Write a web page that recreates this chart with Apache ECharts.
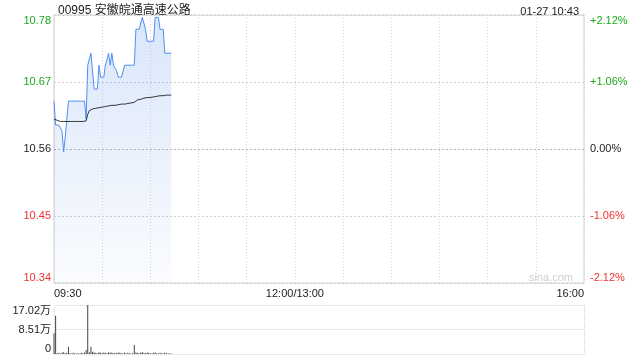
<!DOCTYPE html>
<html><head><meta charset="utf-8">
<script src="https://cdn.jsdelivr.net/npm/echarts@6/dist/echarts.min.js"></script>
<style>html,body{margin:0;padding:0;background:#fff}#c{width:640px;height:360px}</style>
</head><body><div id="c"></div>
<script>
const title = '00995 安徽皖通高速公路';
const stamp = '01-27 10:43';
const prevClose = 10.56;
const priceTickLabels = ['10.34','10.45','10.56','10.67','10.78'];
const pctTickLabels = ['-2.12%','-1.06%','0.00%','+1.06%','+2.12%'];
const volTickLabels = ['0','8.51万','17.02万'];
const timeTickLabels = {0:'09:30',150:'12:00/13:00',330:'16:00'};
// minutes since 09:30, one value per minute 09:30..10:43
const price = [10.64,10.60,10.60,10.60,10.60,10.59,10.555,10.58,10.58,10.64,
  10.64,10.64,10.64,10.64,10.64,10.64,10.64,10.64,10.64,10.64,
  10.61,10.70,10.70,10.72,10.72,10.66,10.66,10.66,10.70,10.68,
  10.68,10.68,10.70,10.70,10.72,10.70,10.72,10.70,10.70,10.69,
  10.68,10.68,10.68,10.68,10.70,10.70,10.70,10.70,10.70,10.70,
  10.70,10.76,10.76,10.76,10.76,10.78,10.78,10.76,10.74,10.74,
  10.74,10.74,10.74,10.78,10.78,10.78,10.76,10.76,10.76,10.72,
  10.72,10.72,10.72,10.72];
const avgPrice = [10.610,10.609,10.608,10.607,10.606,10.606,10.606,10.606,10.606,10.606,
  10.606,10.606,10.606,10.606,10.606,10.606,10.606,10.606,10.606,10.606,
  10.607,10.618,10.624,10.626,10.627,10.628,10.628,10.629,10.629,10.630,
  10.630,10.631,10.631,10.632,10.632,10.632,10.633,10.633,10.633,10.634,
  10.634,10.634,10.635,10.635,10.635,10.636,10.636,10.636,10.637,10.637,
  10.638,10.641,10.642,10.643,10.643,10.644,10.645,10.645,10.646,10.646,
  10.646,10.647,10.647,10.648,10.648,10.648,10.649,10.649,10.649,10.649,
  10.650,10.650,10.650,10.650];
const volume = [72000,133000,3000,4000,2000,5000,6000,3000,4000,25000,
  3000,2000,4000,3000,2000,3000,2000,4000,3000,5000,
  14000,170200,6000,25000,8000,5000,4000,3000,6000,4000,
  3000,5000,4000,3000,6000,4000,5000,3000,4000,3000,
  5000,4000,3000,2000,5000,3000,4000,3000,2000,3000,
  31000,5000,4000,3000,5000,6000,4000,3000,5000,4000,
  3000,2000,4000,5000,3000,2000,4000,3000,2000,5000,
  3000,2000,3000,2000];

const FONT = '"Liberation Sans", "Noto Sans CJK SC", sans-serif';
const step = prevClose * 0.0106;
const chart = echarts.init(document.getElementById('c'), null, {renderer:'canvas'});
const pcolor = (i) => i > 2 ? '#1ba81b' : (i < 2 ? '#f03030' : '#222');
chart.setOption({
  animation: false,
  textStyle: {fontFamily: FONT},
  title: [
    {text: title, left: 53, top: 0, textStyle: {fontSize: 12, fontWeight: 'normal', color: '#222', fontFamily: FONT}},
    {text: stamp, right: 56, top: 1, textStyle: {fontSize: 11, fontWeight: 'normal', color: '#222', fontFamily: FONT}}
  ],
  graphic: [{type: 'text', right: 67, top: 272, style: {text: 'sina.com', fill: '#d0d0d0', font: '11px ' + FONT}}],
  grid: [
    {left: 54, right: 56, top: 15, height: 268, show: true, borderColor: '#cfcfcf', borderWidth: 1, backgroundColor: 'transparent'},
    {left: 54, right: 56, top: 305, height: 49}
  ],
  xAxis: [
    {gridIndex: 0, type: 'value', min: 0, max: 330, interval: 30,
      axisLine: {show: false}, axisTick: {show: false},
      axisLabel: {fontSize: 11, color: '#222', margin: 5, alignMinLabel: 'left', alignMaxLabel: 'right',
        formatter: v => timeTickLabels[v] || ''},
      splitLine: {show: true, lineStyle: {color: '#d8d8d8', type: [1, 2]}}},
    {gridIndex: 1, type: 'value', min: 0, max: 330, interval: 330,
      axisLine: {show: false}, axisTick: {show: false}, axisLabel: {show: false},
      splitLine: {show: true, lineStyle: {color: '#cfcfcf', type: [1, 1]}}}
  ],
  yAxis: [
    {gridIndex: 0, type: 'value', min: prevClose - 2 * step, max: prevClose + 2 * step, interval: step,
      axisLine: {show: false}, axisTick: {show: false},
      axisLabel: {fontSize: 11, margin: 3, verticalAlignMinLabel: 'bottom', verticalAlignMaxLabel: 'top',
        formatter: (v, i) => priceTickLabels[i] || '', color: (v, i) => pcolor(i)},
      splitLine: {show: true, lineStyle: {color: ['#d0d0d0','#d0d0d0','#b8b8b8','#d0d0d0','#d0d0d0'], type: [2, 2]}}},
    {gridIndex: 0, type: 'value', position: 'right', min: -2.12, max: 2.12, interval: 1.06,
      axisLine: {show: false}, axisTick: {show: false}, splitLine: {show: false},
      axisLabel: {fontSize: 11, margin: 6, verticalAlignMinLabel: 'bottom', verticalAlignMaxLabel: 'top',
        formatter: (v, i) => pctTickLabels[i] || '', color: (v, i) => pcolor(i)}},
    {gridIndex: 1, type: 'value', min: 0, max: 170200, interval: 85100,
      axisLine: {show: false}, axisTick: {show: false},
      axisLabel: {fontSize: 11, color: '#222', margin: 3, verticalAlignMinLabel: 'bottom', verticalAlignMaxLabel: 'top',
        formatter: (v, i) => volTickLabels[i] || ''},
      splitLine: {show: true, lineStyle: {color: '#cfcfcf', type: [1, 1]}}}
  ],
  series: [
    {type: 'line', xAxisIndex: 0, yAxisIndex: 0, showSymbol: false, symbol: 'none',
      data: price.map((p, i) => [i, p]),
      lineStyle: {color: '#4f8ef0', width: 1},
      areaStyle: {origin: 'start', color: new echarts.graphic.LinearGradient(0, 0, 0, 1, [
        {offset: 0, color: 'rgba(90,145,235,0.32)'}, {offset: 1, color: 'rgba(90,145,235,0.04)'}])}},
    {type: 'line', xAxisIndex: 0, yAxisIndex: 0, showSymbol: false, symbol: 'none',
      data: avgPrice.map((p, i) => [i, p]),
      lineStyle: {color: '#333', width: 1}},
    {type: 'bar', xAxisIndex: 1, yAxisIndex: 2, barWidth: 1,
      data: volume.map((v, i) => [i, v]),
      itemStyle: {color: '#444'}}
  ]
});
</script></body></html>
